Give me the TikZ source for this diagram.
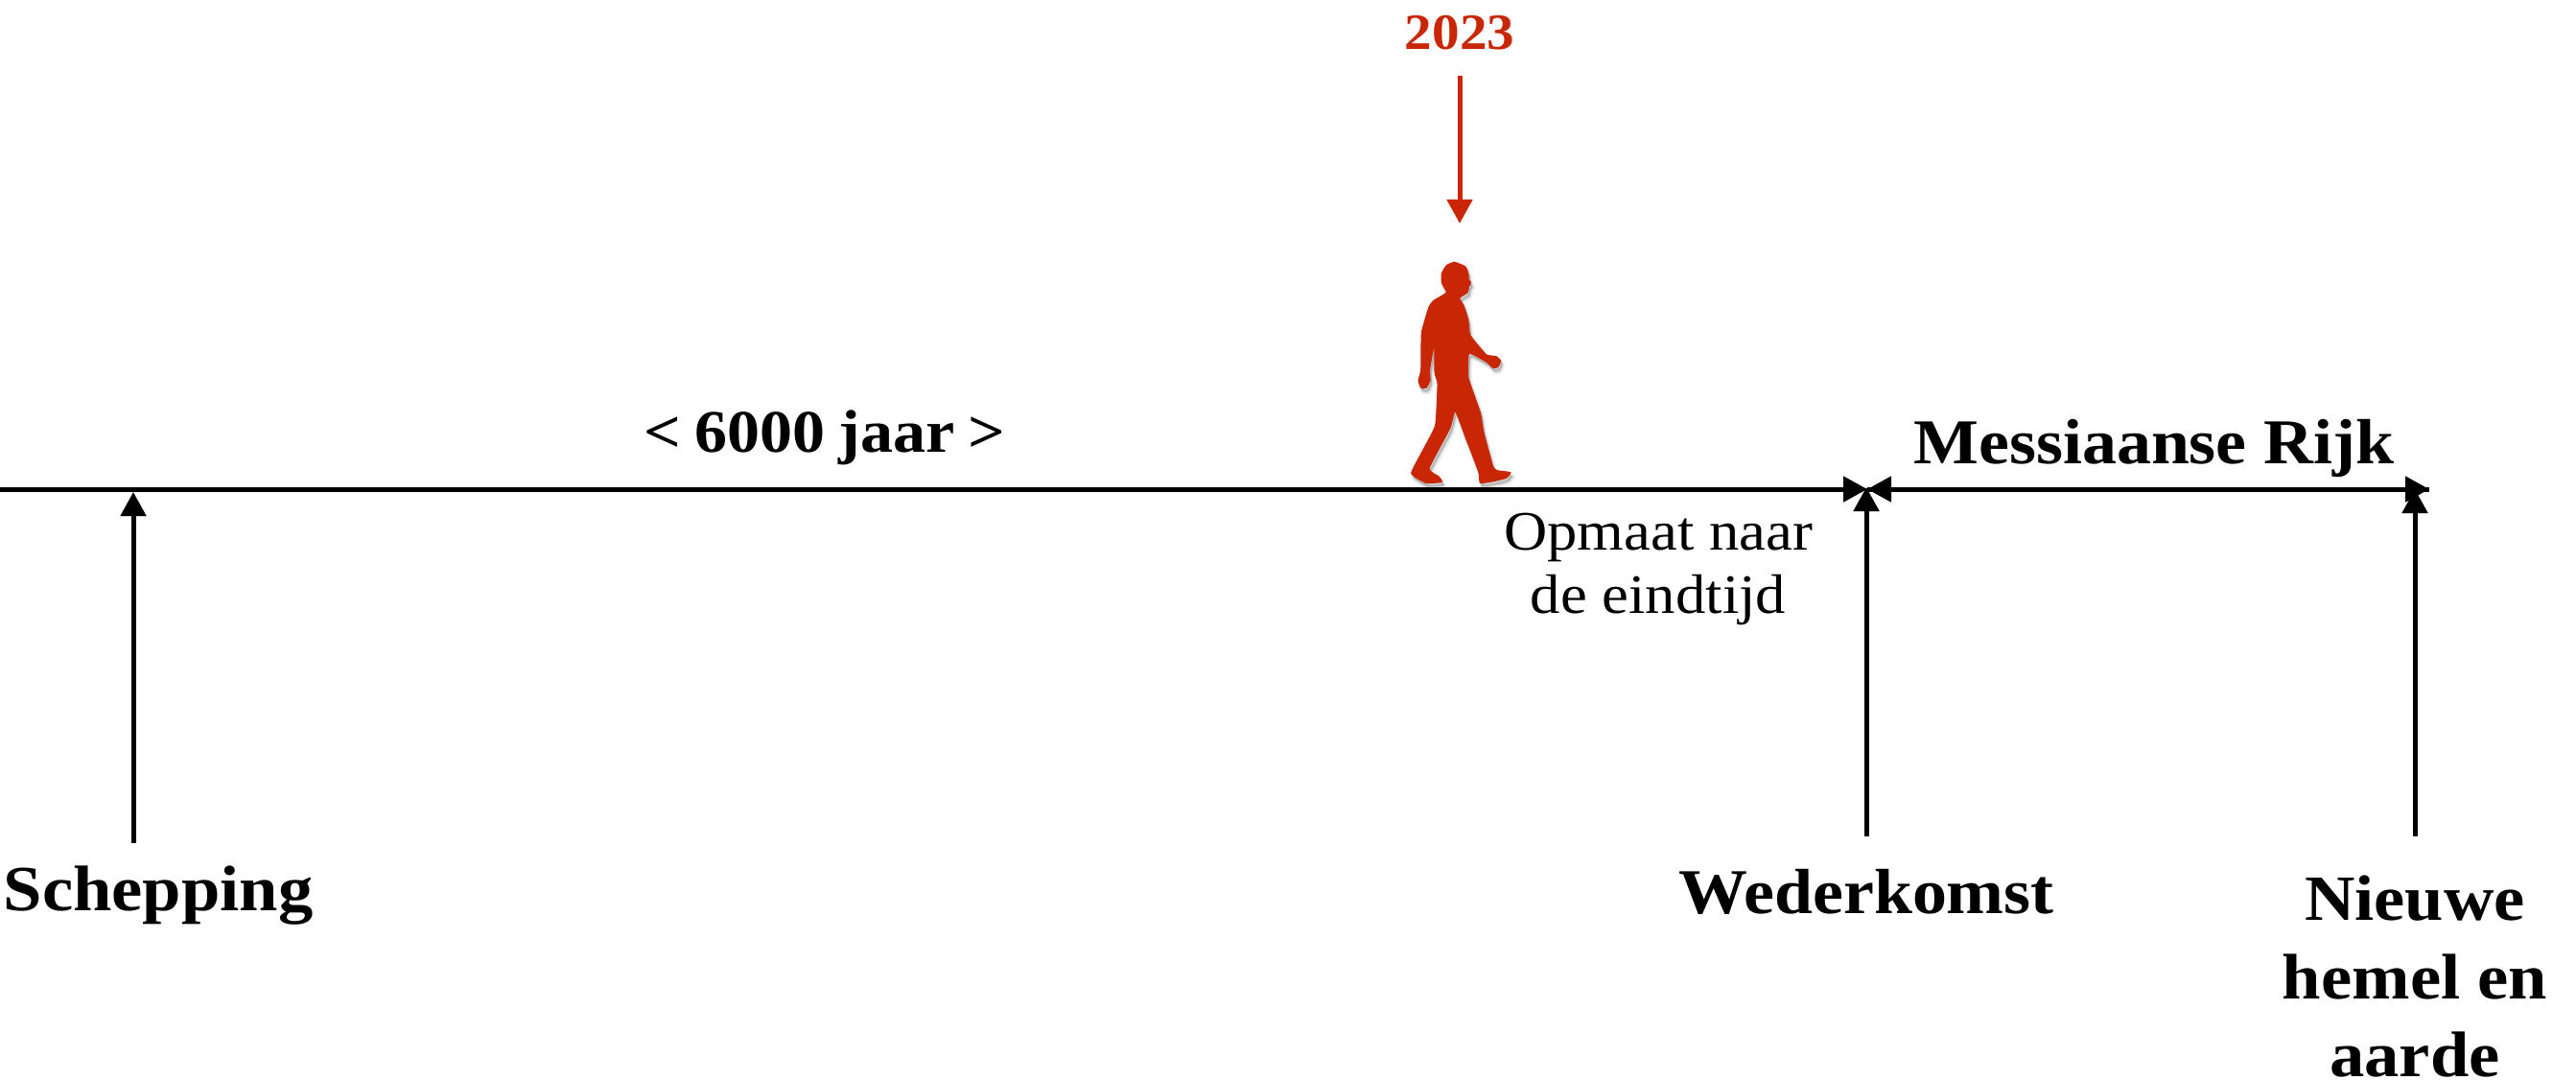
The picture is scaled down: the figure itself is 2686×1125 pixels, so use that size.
\documentclass[tikz,border=0pt]{standalone}
\usepackage{fontspec}
\setmainfont{Liberation Serif}[FakeStretch=1.08]
\usetikzlibrary{arrows.meta}
\definecolor{redman}{RGB}{200,38,5}
\tikzset{
  x=0.5pt,y=-0.5pt,
  axis/.style={line width=2.5pt,-{Triangle[length=12.5pt,width=13pt]}},
  pointer/.style={axis},
  redptr/.style={line width=2.5pt,redman,-{Triangle[length=12.5pt,width=13pt]}},
  lab/.style={font=\bfseries\fontsize{33.6}{38}\selectfont,align=center,inner sep=0pt,text=black},
  thin label/.style={font=\fontsize{29}{34}\selectfont,align=center,inner sep=0pt,text=black}
}
\newcommand{\walker}{(350,100) (385,115) (393,140) (393,155) (401,163) (395,175) (390,195) (365,212) (378,235) (392,280) (397,325) (415,350) (450,390) (480,395) (494,408) (485,428) (470,430) (450,412) (395,385) (392,460) (430,570) (440,630) (470,740) (485,752) (525,758) (510,775) (470,785) (430,790) (425,755) (385,650) (352,565) (335,620) (270,745) (300,770) (310,787) (260,790) (215,760) (250,690) (290,610) (297,480) (288,445) (287,355) (272,435) (273,470) (262,492) (245,492) (237,470) (245,437) (247,320) (270,240) (285,220) (325,195) (310,165) (310,135) (325,110)}
\begin{document}
\begin{tikzpicture}
\useasboundingbox (0,0) rectangle (2686,1125);
% anchors
\coordinate (lstart) at (0,510);
\coordinate (mid) at (1947,510);
\coordinate (mid2) at (1946,508);
\coordinate (rend) at (2533,510);
\coordinate (rtip) at (2518,510);
\coordinate (stip) at (139,513);
\coordinate (sbot) at (139,879);
\coordinate (wbot) at (1946,872);
\coordinate (nbot) at (2518,872);
\coordinate (ytop) at (1522,79);
\coordinate (ytip) at (1522,233);
% walker
\foreach \d/\o/\w in {5/0.05/2.2,4/0.07/1.4,3/0.09/0.6}{
  \begin{scope}[shift={(1400+\d*0.5,240+\d)},x=0.1667pt,y=-0.1667pt]
    \fill[black,opacity=\o,draw=black,line width=\w pt] plot[smooth cycle,tension=0.25] coordinates {\walker};
  \end{scope}
}
\begin{scope}[shift={(1400,240)},x=0.1667pt,y=-0.1667pt]
  \filldraw[redman,line width=0.5pt,line join=round] plot[smooth cycle,tension=0.25] coordinates {\walker};
\end{scope}
% connectors
\draw[axis] (lstart) -- (mid);
\draw[axis] (rend) -- (mid);
\draw[axis] (mid) -- (rend);
\draw[pointer] (sbot) -- (stip);
\draw[pointer] (wbot) -- (mid2);
\draw[pointer] (nbot) -- (rtip);
\draw[redptr] (ytop) -- (ytip);
% labels
\node[lab,text=redman,font=\bfseries\fontsize{26.5}{32}\selectfont] (year) at (1522,34) {2023};
\node[lab,font=\bfseries\fontsize{31.5}{38}\selectfont] (span) at (860,456) {<\hspace{0.22em}6000\hspace{0.22em}jaar\hspace{0.22em}>};
\node[lab,font=\bfseries\fontsize{33.3}{38}\selectfont] (mess) at (2246,467) {Messiaanse Rijk};
\node[thin label] (opm) at (1729,593) {Opmaat naar\\[-1pt]de eindtijd};
\node[lab] (sch) at (165,934) {Schepping};
\node[lab,font=\bfseries\fontsize{33.3}{38}\selectfont] (wed) at (1946,930) {Wederkomst};
\node[lab] (nie) at (2518,1018) {Nieuwe\\[2.6pt]hemel en\\[2.6pt]aarde};
\end{tikzpicture}
\end{document}
